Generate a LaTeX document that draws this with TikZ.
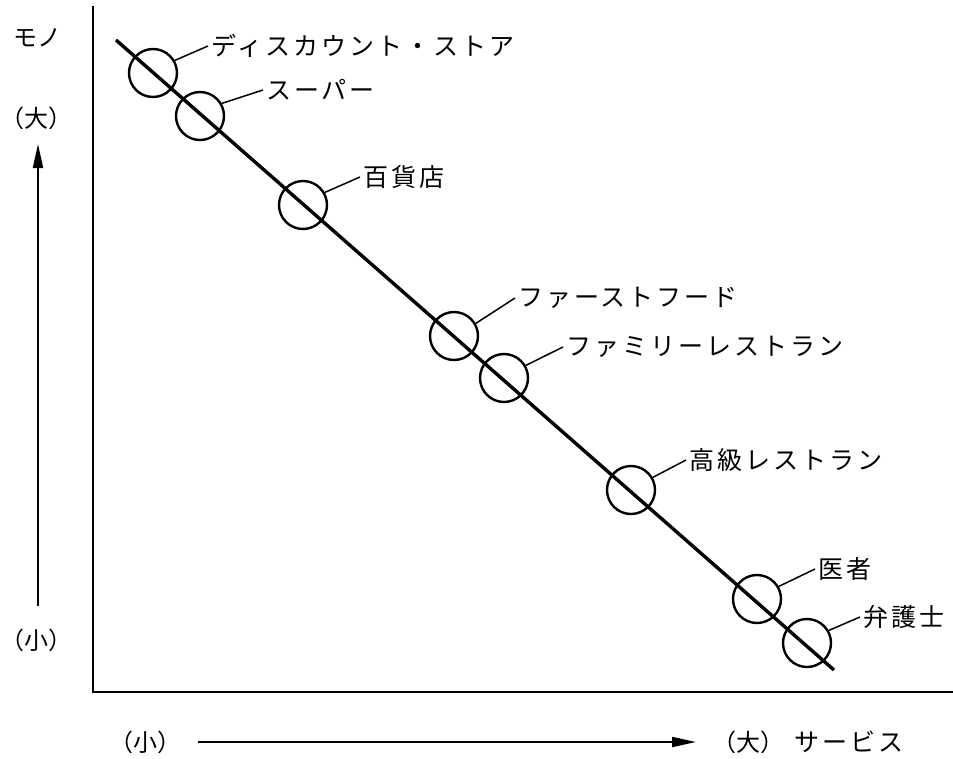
\documentclass[tikz,border=0pt]{standalone}
\usepackage{fontspec}
\usetikzlibrary{arrows.meta}
\newfontfamily\jp[LetterSpace=12]{Noto Sans CJK JP}
\newfontfamily\jpn{Noto Sans CJK JP}
\begin{document}
\begin{tikzpicture}[x=1pt,y=-1pt,
  lbl/.style={anchor=west,inner sep=3pt,font=\jp\fontsize{25}{28}\selectfont},
  axlbl/.style={inner sep=0pt,font=\jpn\fontsize{24}{27}\selectfont},
  ring/.style={circle,draw,line width=2.4pt,minimum size=48pt,inner sep=0pt},
  leader/.style={line width=1.5pt},
  axis/.style={line width=2pt},
  arr/.style={line width=2pt,-{Triangle[length=24pt,width=10pt]}}]
\useasboundingbox (0,0) rectangle (953,758);
% axes
\coordinate (top) at (93,6);
\coordinate (origin) at (93,692);
\coordinate (right) at (953,692);
\draw[axis] (top) -- (origin) -- (right);
% diagonal
\coordinate (d1) at (116,40);
\coordinate (d2) at (834,670);
\draw[line width=3.4pt] (d1) -- (d2);
% circles
\node[ring] (c1) at (153,73) {};
\node[ring] (c2) at (200,116) {};
\node[ring] (c3) at (303,205) {};
\node[ring] (c4) at (454,336) {};
\node[ring] (c5) at (504,378) {};
\node[ring] (c6) at (631,490) {};
\node[ring] (c7) at (757,599) {};
\node[ring] (c8) at (807,643) {};
% labels
\node[lbl] (l1) at (208,46) {ディスカウント・ストア};
\node[lbl] (l2) at (263,90) {スーパー};
\node[lbl] (l3) at (360,177) {百貨店};
\node[lbl] (l4) at (515,298) {ファーストフード};
\node[lbl] (l5) at (563,347) {ファミリーレストラン};
\node[lbl] (l6) at (686,460) {高級レストラン};
\node[lbl] (l7) at (815,569) {医者};
\node[lbl] (l8) at (860,617) {弁護士};
\foreach \i in {1,...,8} \draw[leader] (c\i.30) -- (l\i.west);
% vertical axis labels
\node[axlbl] (mono) at (37,38) {モノ};
\node[axlbl] (vbig) at (37,118) {（大）};
\node[axlbl] (vsmall) at (37,640) {（小）};
\coordinate (va1) at (38,606);
\coordinate (va2) at (38,144);
\draw[arr] (va1) -- (va2);
% horizontal axis labels
\node[axlbl] (hsmall) at (145,742) {（小）};
\coordinate (ha1) at (198,742);
\coordinate (ha2) at (696,742);
\draw[arr] (ha1) -- (ha2);
\node[axlbl,anchor=west] (hbig) at (712,742) {（大）};
\node[lbl,inner sep=0pt] (serv) at (794,742) {サービス};
\end{tikzpicture}
\end{document}
